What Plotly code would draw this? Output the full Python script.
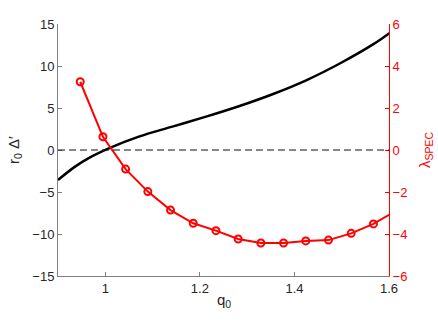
import plotly.graph_objects as go

# Black curve: r0 * Delta' vs q0
q_curve = [0.900, 0.936, 0.964, 1.011, 1.071, 1.142, 1.213, 1.284, 1.355, 1.426, 1.496, 1.567, 1.603]
delta = [-3.57, -1.98, -0.99, 0.28, 1.59, 2.78, 3.97, 5.24, 6.67, 8.33, 10.3, 12.6, 14.0]

# Red series: lambda_SPEC vs q0
q_spec = [0.947, 0.995, 1.043, 1.090, 1.138, 1.186, 1.234, 1.281, 1.329, 1.377, 1.424, 1.472, 1.520, 1.567, 1.615]
lam = [3.25, 0.63, -0.91, -1.98, -2.86, -3.49, -3.84, -4.24, -4.43, -4.43, -4.33, -4.29, -3.97, -3.52, -2.90]

x_ticks = [1, 1.2, 1.4, 1.6]
x_ticklabels = ["1", "1.2", "1.4", "1.6"]
y_ticks = [-15, -10, -5, 0, 5, 10, 15]
y2_ticks = [-6, -4, -2, 0, 2, 4, 6]

FONT = "Liberation Sans, Arial, Helvetica, sans-serif"
RED = "#ff0000"
DARK = "#262626"

fig = go.Figure()
fig.add_trace(go.Scatter(x=q_curve, y=delta, mode="lines",
                         line=dict(color="black", width=2.5, shape="spline", smoothing=1.0),
                         showlegend=False, hoverinfo="skip"))
fig.add_hline(y=0, line=dict(color="#111111", width=1.2, dash="7px,4px"))
fig.add_trace(go.Scatter(x=q_spec, y=lam, mode="lines+markers", yaxis="y2",
                         line=dict(color=RED, width=2),
                         marker=dict(symbol="circle-open", size=7, color=RED, line=dict(width=2, color=RED)),
                         showlegend=False, hoverinfo="skip", cliponaxis=True))

axis_common = dict(showgrid=False, zeroline=False, showline=True, linewidth=1,
                   ticks="inside", ticklen=4, automargin=False)

fig.update_layout(
    width=438, height=328,
    margin=dict(l=58, r=49, t=24, b=52),
    paper_bgcolor="white", plot_bgcolor="white",
    font=dict(family=FONT, size=13, color=DARK),
    xaxis=dict(range=[0.9, 1.6], tickvals=x_ticks, ticktext=x_ticklabels,
               linecolor="#808080", tickcolor="#808080", **axis_common),
    yaxis=dict(range=[-15, 15], tickvals=y_ticks,
               linecolor="#808080", tickcolor="#808080", **axis_common),
    yaxis2=dict(range=[-6, 6], tickvals=y2_ticks, overlaying="y", side="right",
                linecolor=RED, tickcolor=RED, tickfont=dict(color=RED), **axis_common),
    annotations=[
        dict(text="q<sub>0</sub>", xref="paper", yref="paper", x=0.5, y=0,
             xanchor="center", yanchor="middle", yshift=-24, showarrow=False,
             font=dict(size=15, color=DARK)),
        dict(text="r<sub>0</sub> Δ′", xref="paper", yref="paper", x=0, y=0.5,
             xanchor="center", yanchor="middle", xshift=-44, textangle=-90, showarrow=False,
             font=dict(size=15, color=DARK)),
        dict(text="λ<sub>SPEC</sub>", xref="paper", yref="paper", x=1, y=0.5,
             xanchor="center", yanchor="middle", xshift=36, textangle=-90, showarrow=False,
             font=dict(size=15, color=RED)),
    ],
)

fig.write_html("out.html", config={"displayModeBar": False},
               post_script="document.body.style.margin='0px';document.body.style.padding='0px';")
